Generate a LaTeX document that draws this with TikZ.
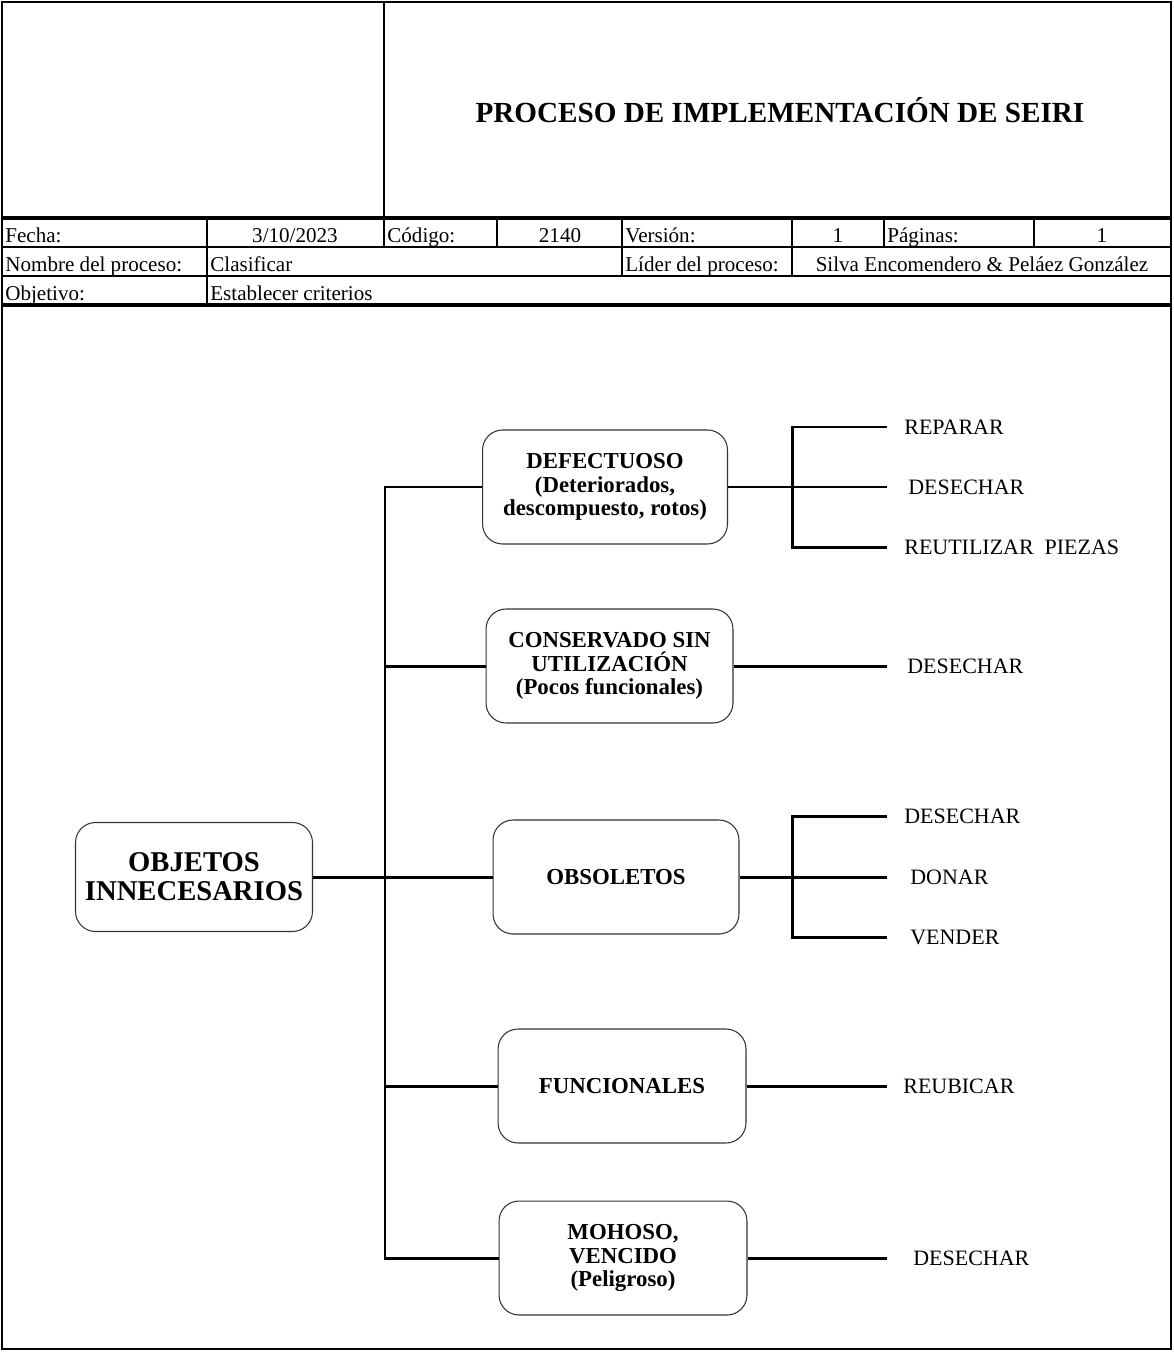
\documentclass[tikz,border=0pt]{standalone}
\usepackage{fontspec}
\setmainfont{Liberation Serif}
\begin{document}
\begin{tikzpicture}[x=0.02cm,y=-0.02cm,
  frame/.style={line width=0.8pt,black},
  thickrule/.style={line width=2pt,black},
  thinrule/.style={line width=0.9pt,black},
  cell/.style={inner sep=0pt,font=\fontsize{12}{14}\selectfont},
  titletext/.style={inner sep=0pt,font=\fontsize{16.6}{18}\selectfont\bfseries},
  catbox/.style={draw=black!80,line width=0.6pt,rounded corners=0.4cm,
    minimum height=2.28cm,align=center,inner sep=2pt,
    font=\fontsize{13}{13.4}\selectfont\bfseries},
  rootbox/.style={draw=black!80,line width=0.6pt,rounded corners=0.4cm,
    minimum width=4.74cm,minimum height=2.18cm,align=center,inner sep=2pt,
    font=\fontsize{16.3}{16.5}\selectfont\bfseries},
  action/.style={anchor=west,inner sep=0pt,font=\fontsize{12.5}{14}\selectfont},
  conn/.style={line width=1.7pt,black}]

\useasboundingbox (0,0) rectangle (1173,1352);

% ---------- header ----------
\draw[frame] (2,2) rectangle (1171,1349);
\draw[line width=1.2pt] (384,2) -- (384,218);
\node[titletext] (title) at (780,110) {PROCESO DE IMPLEMENTACIÓN DE SEIRI};

\draw[thickrule] (2,218) -- (1171,218);
\draw[thinrule] (2,247) -- (1171,247);
\draw[thinrule] (2,276) -- (1171,276);
\draw[thickrule] (2,305) -- (1171,305);

\foreach \cx in {207,384,497,622,792,884,1034}
  \draw[thinrule] (\cx,218) -- (\cx,247);
\foreach \cx in {207,622,792}
  \draw[thinrule] (\cx,247) -- (\cx,276);
\draw[thinrule] (207,276) -- (207,305);

\node[cell,anchor=base west] (fecha) at (5,242) {Fecha:};
\node[cell,anchor=base] (fechav) at (295,242) {3/10/2023};
\node[cell,anchor=base west] (codigo) at (387,242) {Código:};
\node[cell,anchor=base] (codigov) at (560,242) {2140};
\node[cell,anchor=base west] (version) at (625,242) {Versión:};
\node[cell,anchor=base] (versionv) at (838,242) {1};
\node[cell,anchor=base west] (paginas) at (887,242) {Páginas:};
\node[cell,anchor=base] (paginasv) at (1102,242) {1};

\node[cell,anchor=base west] (nombre) at (5,271) {Nombre del proceso:};
\node[cell,anchor=base west] (nombrev) at (210,271) {Clasificar};
\node[cell,anchor=base west] (lider) at (625,271) {Líder del proceso:};
\node[cell,anchor=base] (liderv) at (982,271) {Silva Encomendero \& Peláez González};

\node[cell,anchor=base west] (objetivo) at (5,300) {Objetivo:};
\node[cell,anchor=base west] (objetivov) at (210,300) {Establecer criterios};

% ---------- diagram ----------
\coordinate (trk) at (385,0);
\coordinate (brk) at (792,0);
\coordinate (rend) at (887,0);

\node[rootbox] (obj) at (194,877) {OBJETOS\\INNECESARIOS};

\node[catbox,minimum width=4.9cm] (def) at (605,487)
  {DEFECTUOSO\\(Deteriorados,\\descompuesto, rotos)};
\node[catbox,minimum width=4.94cm] (cons) at (609.5,666)
  {CONSERVADO SIN\\UTILIZACIÓN\\(Pocos funcionales)};
\node[catbox,minimum width=4.92cm] (obs) at (616,877) {OBSOLETOS};
\node[catbox,minimum width=4.96cm] (fun) at (622,1086) {FUNCIONALES};
\node[catbox,minimum width=4.96cm] (moh) at (623,1258)
  {MOHOSO,\\VENCIDO\\(Peligroso)};

% actions
\node[action] (d1) at (904,427) {REPARAR};
\node[action] (d2) at (908,487) {DESECHAR};
\node[action] (d3) at (904,547) {REUTILIZAR\ \ PIEZAS};
\node[action] (c1) at (907,666) {DESECHAR};
\node[action] (o1) at (904,816) {DESECHAR};
\node[action] (o2) at (910,877) {DONAR};
\node[action] (o3) at (910,937) {VENDER};
\node[action] (f1) at (903,1086) {REUBICAR};
\node[action] (m1) at (913,1258) {DESECHAR};

% trunk and branches
\draw[conn] (def.west) -- (def.west -| trk) -- (moh.west -| trk) -- (moh.west);
\draw[conn] (cons.west) -- (cons.west -| trk);
\draw[conn] (fun.west) -- (fun.west -| trk);
\draw[conn] (obj.east) -- (obs.west);

% right side connectors
\draw[conn] (def.east) -- (d2.west -| rend);
\draw[conn] (d1.west -| rend) -- (d1.west -| brk) -- (d3.west -| brk) -- (d3.west -| rend);
\draw[conn] (cons.east) -- (c1.west -| rend);
\draw[conn] (obs.east) -- (o2.west -| rend);
\draw[conn] (o1.west -| rend) -- (o1.west -| brk) -- (o3.west -| brk) -- (o3.west -| rend);
\draw[conn] (fun.east) -- (f1.west -| rend);
\draw[conn] (moh.east) -- (m1.west -| rend);

\end{tikzpicture}
\end{document}
